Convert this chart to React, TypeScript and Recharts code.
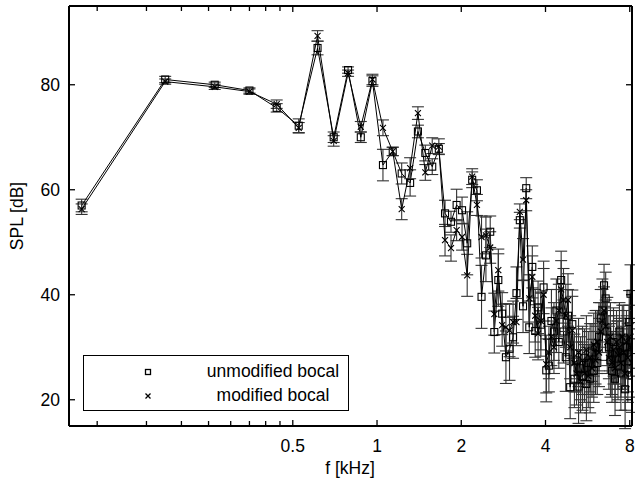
import { ComposedChart, Line, XAxis, YAxis, ErrorBar } from 'recharts';

// harmonic frequencies [kHz]
const freqs = [
  0.088, 0.175, 0.263, 0.35, 0.438, 0.525, 0.613, 0.7, 0.788, 0.875,
  0.963, 1.05, 1.138, 1.225, 1.313, 1.4, 1.488, 1.575, 1.663, 1.75,
  1.838, 1.925, 2.013, 2.1, 2.188, 2.275, 2.363, 2.45, 2.538, 2.625,
  2.713, 2.8, 2.888, 2.975, 3.063, 3.15, 3.238, 3.325, 3.413, 3.5,
  3.588, 3.675, 3.763, 3.85, 3.938, 4.025, 4.113, 4.2, 4.288, 4.375,
  4.463, 4.55, 4.638, 4.725, 4.813, 4.9, 4.988, 5.075, 5.163, 5.25,
  5.338, 5.425, 5.513, 5.6, 5.688, 5.775, 5.863, 5.95, 6.038, 6.125,
  6.213, 6.3, 6.388, 6.475, 6.563, 6.65, 6.738, 6.825, 6.913, 7.0,
  7.088, 7.175, 7.263, 7.35, 7.438, 7.525, 7.613, 7.7, 7.788, 7.875,
  7.963, 8.05, 8.138,
];

const unmodified = [
  57.0, 81.0, 80.0, 78.9, 75.6, 72.2, 87.0, 70.0, 82.8, 70.0,
  80.7, 64.7, 67.3, 63.1, 61.3, 71.1, 67.0, 64.4, 67.8, 55.5,
  53.9, 57.1, 56.1, 49.8, 61.9, 59.9, 39.6, 47.5, 52.0, 32.9,
  42.8, 36.4, 28.1, 29.7, 31.9, 40.3, 54.2, 37.8, 60.3, 33.8,
  45.3, 33.1, 37.6, 34.3, 41.4, 25.6, 26.5, 35.0, 33.0, 37.0,
  31.0, 42.8, 33.0, 28.1, 36.0, 22.4, 34.4, 24.0, 27.5, 22.5,
  26.0, 24.5, 28.0, 23.0, 27.0, 24.0, 29.0, 25.5, 30.0, 27.0,
  32.0, 35.5, 37.0, 41.8, 39.3, 33.0, 30.0, 27.5, 25.5, 31.0,
  24.0, 29.0, 26.5, 33.0, 25.0, 28.0, 31.5, 22.0, 30.0, 26.0,
  34.8, 40.2, 24.6,
];

const unmodifiedErr = [
  1.2, 0.6, 0.5, 0.5, 0.8, 1.3, 1.3, 1.0, 0.6, 1.0,
  1.0, 3.0, 0.8, 2.0, 2.5, 1.2, 1.5, 1.5, 1.0, 2.5,
  2.0, 3.0, 2.5, 6.0, 1.5, 2.0, 6.0, 5.0, 3.0, 4.0,
  5.0, 4.0, 5.0, 6.0, 4.0, 5.0, 1.5, 5.0, 2.0, 5.0,
  4.0, 5.0, 5.0, 6.0, 5.0, 6.0, 5.0, 6.0, 5.5, 6.0,
  5.0, 5.5, 6.0, 6.5, 5.0, 6.0, 6.5, 5.5, 6.0, 7.0,
  6.0, 6.5, 5.5, 7.0, 6.0, 6.5, 5.5, 6.0, 7.0, 6.0,
  6.5, 5.5, 6.0, 4.0, 5.0, 6.5, 6.0, 7.0, 6.0, 6.5,
  7.0, 6.0, 6.5, 5.5, 7.0, 6.0, 6.5, 7.5, 6.0, 6.5,
  6.0, 5.5, 7.0,
];

const modified = [
  56.3, 80.6, 79.6, 78.7, 76.3, 71.8, 89.3, 69.3, 82.2, 72.0,
  81.0, 71.8, 67.3, 56.3, 64.1, 74.6, 63.3, 68.4, 68.2, 50.4,
  48.9, 52.3, 51.0, 43.7, 62.5, 57.1, 51.0, 51.3, 49.0, 36.3,
  44.7, 34.2, 33.8, 33.2, 34.8, 34.8, 55.8, 46.7, 58.0, 39.3,
  43.4, 36.0, 32.6, 35.0, 40.0, 26.8, 29.0, 32.0, 30.0, 35.0,
  37.0, 41.0, 39.0, 36.0, 39.0, 30.0, 33.2, 27.0, 25.0, 29.0,
  23.5, 27.5, 25.0, 29.5, 24.5, 28.0, 26.0, 30.5, 27.5, 31.0,
  29.0, 33.0, 35.0, 37.0, 34.0, 31.0, 28.0, 32.0, 27.0, 29.5,
  26.0, 31.0, 28.5, 30.0, 27.0, 32.0, 29.0, 25.0, 31.0, 28.0,
  32.0, 30.0, 27.0,
];

const modifiedErr = [
  1.0, 0.5, 0.5, 0.5, 0.8, 1.0, 1.0, 1.0, 0.6, 1.0,
  1.0, 1.5, 0.8, 2.0, 2.0, 1.2, 1.5, 1.5, 1.5, 3.0,
  2.5, 2.0, 2.5, 4.0, 1.5, 2.0, 4.0, 3.5, 3.0, 4.0,
  4.0, 4.0, 4.5, 5.0, 4.0, 4.5, 1.5, 4.0, 2.0, 4.5,
  4.0, 5.0, 5.0, 5.5, 5.0, 5.5, 5.0, 5.5, 5.0, 6.0,
  5.0, 5.5, 6.0, 6.0, 5.0, 6.0, 6.5, 5.5, 6.0, 6.5,
  6.0, 6.5, 5.5, 6.5, 6.0, 6.5, 5.5, 6.0, 6.5, 6.0,
  6.5, 5.5, 6.0, 4.5, 5.0, 6.0, 6.0, 6.5, 6.0, 6.5,
  6.5, 6.0, 6.5, 5.5, 6.5, 6.0, 6.5, 7.0, 6.0, 6.5,
  6.0, 5.5, 6.5,
];

const xTicks = [0.1, 0.15, 0.2, 0.25, 0.3, 0.35, 0.4, 0.45, 0.5, 1, 2, 4, 8];
const xLabels = [0.5, 1, 2, 4, 8];
const yTicks = [20, 40, 60, 80];
const seriesNames = ['unmodified bocal', 'modified bocal'];

const data = freqs.map((f, i) => ({
  f,
  u: unmodified[i],
  ue: unmodifiedErr[i],
  m: modified[i],
  me: modifiedErr[i],
}));

const FONT = '"Liberation Sans", Arial, Helvetica, sans-serif';
const FS = 17.5;
const X_DOMAIN = [0.0793, 8.15];
const Y_DOMAIN = [15, 95];

const BottomTick = (props: any) => {
  const { x, y, payload } = props;
  const major = xLabels.includes(payload.value);
  return (
    <g>
      <line x1={x} x2={x} y1={y} y2={y - (major ? 6 : 5)} stroke="#000" strokeWidth={1.3} />
      {major && (
        <text x={x} y={y + 26} textAnchor="middle" fontSize={FS} fontFamily={FONT} fill="#000">
          {payload.value}
        </text>
      )}
    </g>
  );
};

const TopTick = (props: any) => {
  const { x, y, payload } = props;
  const major = xLabels.includes(payload.value);
  return <line x1={x} x2={x} y1={y} y2={y + (major ? 6 : 5)} stroke="#000" strokeWidth={1.3} />;
};

const LeftTick = (props: any) => {
  const { x, y, payload } = props;
  return (
    <g>
      <line x1={x} x2={x + 6} y1={y} y2={y} stroke="#000" strokeWidth={1.3} />
      <text x={x - 9} y={y + 6} textAnchor="end" fontSize={FS} fontFamily={FONT} fill="#000">
        {payload.value}
      </text>
    </g>
  );
};

const RightTick = (props: any) => {
  const { x, y } = props;
  return <line x1={x} x2={x - 6} y1={y} y2={y} stroke="#000" strokeWidth={1.3} />;
};

const SquareDot = (props: any) => {
  const { cx, cy, index } = props;
  if (cx == null || cy == null) return null;
  return <rect key={`s${index}`} x={cx - 3.5} y={cy - 3.5} width={7} height={7} fill="none" stroke="#000" strokeWidth={1.1} />;
};

const CrossDot = (props: any) => {
  const { cx, cy, index } = props;
  if (cx == null || cy == null) return null;
  return (
    <path key={`c${index}`} d={`M${cx - 3},${cy - 3}L${cx + 3},${cy + 3}M${cx - 3},${cy + 3}L${cx + 3},${cy - 3}`} stroke="#000" strokeWidth={1.1} />
  );
};

const YLabel = () => (
  <text x={23} y={216} transform="rotate(-90, 23, 216)" textAnchor="middle" fontSize={FS} fontFamily={FONT} fill="#000">
    SPL [dB]
  </text>
);

const XLabel = () => (
  <text x={350} y={474} textAnchor="middle" fontSize={FS} fontFamily={FONT} fill="#000">
    f [kHz]
  </text>
);

const LegendBox = () => (
  <div
    style={{
      position: 'absolute',
      left: 83,
      top: 355,
      width: 266,
      height: 56,
      border: '1.5px solid #000',
      boxSizing: 'border-box',
      background: '#fff',
      fontFamily: FONT,
      fontSize: FS,
      color: '#000',
    }}
  >
    <svg width={20} height={56} style={{ position: 'absolute', left: 54, top: -1.5 }}>
      <rect x={7.5} y={14.5} width={5} height={5} fill="none" stroke="#000" strokeWidth={1.3} />
      <path d="M7.5,38.5L12.5,43.5M7.5,43.5L12.5,38.5" stroke="#000" strokeWidth={1.3} />
    </svg>
    <div style={{ position: 'absolute', left: 99, width: 180, top: 4, textAlign: 'center', lineHeight: '22px' }}>
      {seriesNames[0]}
    </div>
    <div style={{ position: 'absolute', left: 99, width: 180, top: 28, textAlign: 'center', lineHeight: '22px' }}>
      {seriesNames[1]}
    </div>
  </div>
);

export default function App() {
  return (
    <div style={{ position: 'absolute', left: 0, top: 0, width: 635, height: 484, background: '#fff' }}>
      <ComposedChart
        width={635}
        height={484}
        data={data}
        margin={{ top: 5, right: 2, bottom: 0, left: 0 }}
      >
        <XAxis
          dataKey="f"
          type="number"
          scale="log"
          domain={X_DOMAIN}
          allowDataOverflow
          ticks={xTicks}
          interval={0}
          height={58}
          tickSize={0}
          tickMargin={0}
          tickLine={false}
          tick={<BottomTick />}
          axisLine={{ stroke: '#000', strokeWidth: 2 }}
          label={<XLabel />}
        />
        <XAxis
          xAxisId="top"
          orientation="top"
          dataKey="f"
          type="number"
          scale="log"
          domain={X_DOMAIN}
          allowDataOverflow
          ticks={xTicks}
          interval={0}
          height={1}
          tickSize={0}
          tickMargin={0}
          tickLine={false}
          tick={<TopTick />}
          axisLine={{ stroke: '#000', strokeWidth: 2 }}
        />
        <YAxis
          type="number"
          domain={Y_DOMAIN}
          allowDataOverflow
          ticks={yTicks}
          interval={0}
          width={69}
          tickSize={0}
          tickMargin={0}
          tickLine={false}
          tick={<LeftTick />}
          axisLine={{ stroke: '#000', strokeWidth: 2 }}
          label={<YLabel />}
        />
        <YAxis
          yAxisId="right"
          orientation="right"
          type="number"
          domain={Y_DOMAIN}
          allowDataOverflow
          ticks={yTicks}
          interval={0}
          width={1}
          tickSize={0}
          tickMargin={0}
          tickLine={false}
          tick={<RightTick />}
          axisLine={{ stroke: '#000', strokeWidth: 2 }}
        />
        {/* invisible series so the mirrored frame axes get drawn */}
        <Line
          xAxisId="top"
          yAxisId="right"
          dataKey="u"
          stroke="none"
          dot={false}
          activeDot={false}
          isAnimationActive={false}
        />
        <Line
          dataKey="u"
          type="linear"
          stroke="#000"
          strokeWidth={1}
          dot={<SquareDot />}
          activeDot={false}
          isAnimationActive={false}
        >
          <ErrorBar dataKey="ue" direction="y" width={6} stroke="#333" strokeWidth={1.1} isAnimationActive={false} />
        </Line>
        <Line
          dataKey="m"
          type="linear"
          stroke="#000"
          strokeWidth={1}
          dot={<CrossDot />}
          activeDot={false}
          isAnimationActive={false}
        >
          <ErrorBar dataKey="me" direction="y" width={6} stroke="#333" strokeWidth={1.1} isAnimationActive={false} />
        </Line>
      </ComposedChart>
      <LegendBox />
    </div>
  );
}
